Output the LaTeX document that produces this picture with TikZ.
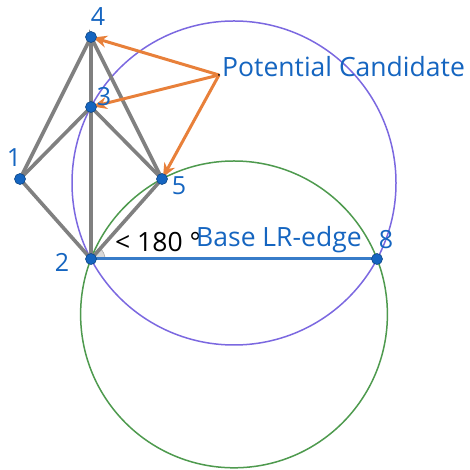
\documentclass[tikz,border=0pt]{standalone}
\usepackage{fontspec}
\setmainfont{Open Sans}
\usepackage{tikz}
\usetikzlibrary{arrows.meta,positioning,calc}
\definecolor{ptblue}{HTML}{1565C0}
\definecolor{edgegray}{HTML}{808080}
\definecolor{candorange}{HTML}{E8803A}
\definecolor{circpurple}{HTML}{7B68E0}
\definecolor{circgreen}{HTML}{4E9A4E}

\begin{document}
\begin{tikzpicture}[
  x=1pt, y=1pt,
  pt/.style={circle, fill=ptblue, draw=ptblue!70!black, line width=0.6pt, inner sep=0pt, minimum size=11pt},
  lbl/.style={text=ptblue, font=\fontsize{25}{28}\selectfont, inner sep=0pt},
  txt/.style={lbl, font=\fontsize{26.5}{30}\selectfont, anchor=west},
  tri/.style={draw=edgegray, line width=3.6pt},
  cand/.style={draw=candorange, line width=3pt, -{Stealth[length=14pt, width=12pt]}, shorten >=2pt}
]
  \useasboundingbox (0,0) rectangle (469,470);

  % circles
  \draw[circpurple, line width=1.5pt] (234,287) circle (162);
  \draw[circgreen, line width=1.5pt] (234,155.6) circle (153.4);

  % points
  \coordinate (p4) at (91,433);
  \coordinate (p3) at (91,363);
  \coordinate (p1) at (20,291);
  \coordinate (p5) at (162,291);
  \coordinate (p2) at (91,211);
  \coordinate (p8) at (377,211);
  \coordinate (cand) at (219,395);

  % angle mark
  \fill[gray!30] (p2) -- ++(0:14) arc (0:48.4:14) -- cycle;
  \draw[gray!70, line width=0.6pt] ($(p2)+(0:14)$) arc (0:48.4:14);

  % triangulation
  \draw[tri] (p4) -- (p1) -- (p2) -- (p5) -- (p4) -- (p3) -- (p2);
  \draw[tri] (p1) -- (p3) -- (p5);

  % base edge
  \draw[ptblue!85, line width=3pt] (p2) -- (p8);

  % candidate arrows
  \draw[cand] (cand) -- (p4);
  \draw[cand] (cand) -- (p3);
  \draw[cand] (cand) -- (p5);
  \fill[black] (cand) circle (1pt);

  \foreach \p in {p1,p2,p3,p4,p5,p8}
    \node[pt] (n\p) at (\p) {};

  % labels
  \node[lbl] (t4) at (98,453) {4};
  \node[lbl] (t3) at (104,373) {3};
  \node[lbl] (t1) at (14,312) {1};
  \node[lbl] (t5) at (179,284) {5};
  \node[lbl] (t2) at (62,208) {2};
  \node[lbl] (t8) at (386,230) {8};
  \node[txt, text=black] (tang) at (115,228) {< 180 °};
  \node[txt] (tbase) at (196,230) {Base LR-edge};
  \node[txt] (tcand) at (222,403) {Potential Candidate};
\end{tikzpicture}
\end{document}
